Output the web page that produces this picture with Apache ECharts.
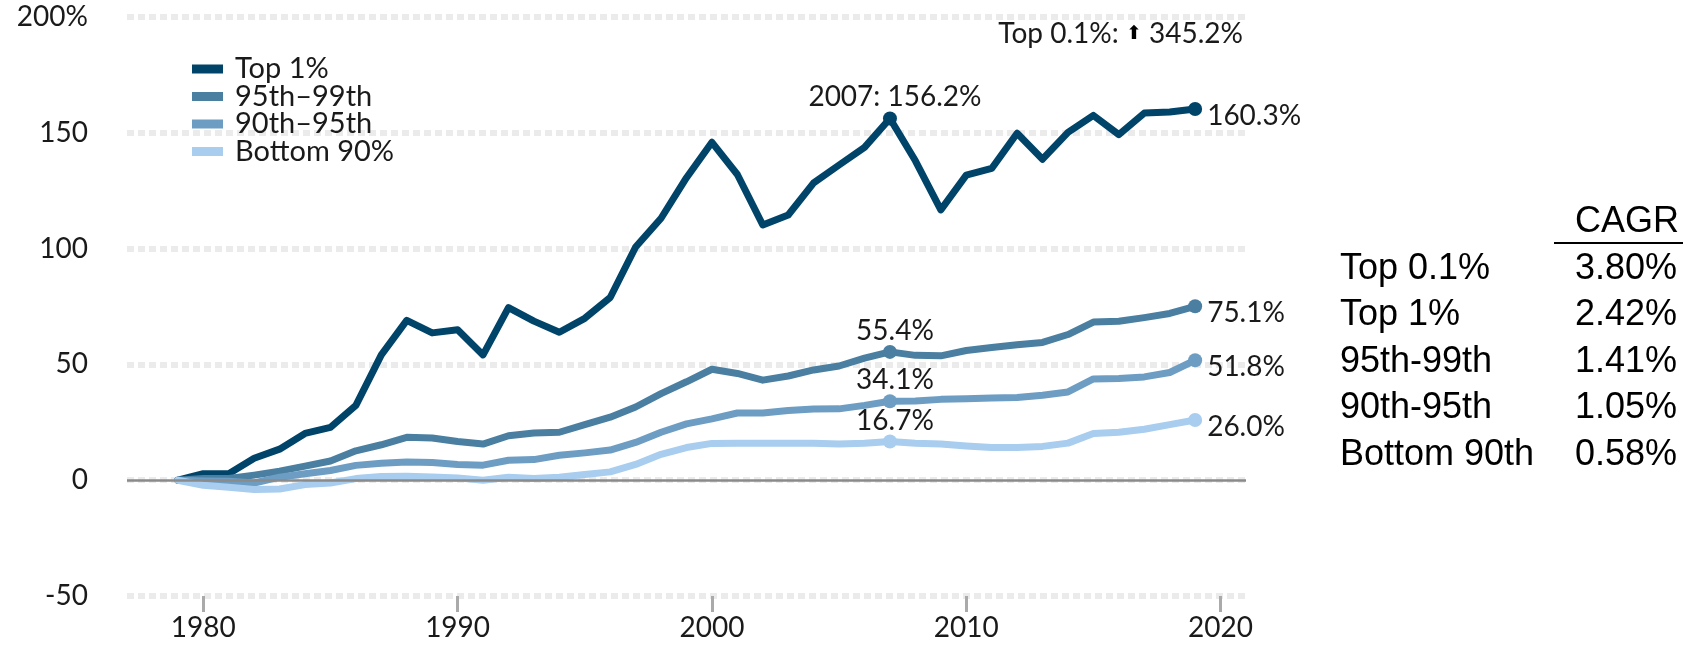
<!DOCTYPE html>
<html>
<head>
<meta charset="utf-8">
<script src="https://cdn.jsdelivr.net/npm/echarts@6/dist/echarts.min.js"></script>
<style>
  html, body { margin: 0; padding: 0; background: #fff; }
  #chart { width: 1699px; height: 646px; }
</style>
</head>
<body>
<div id="chart"></div>
<script>
// years on the x axis
const years = [1979, 1980, 1981, 1982, 1983, 1984, 1985, 1986, 1987, 1988,
  1989, 1990, 1991, 1992, 1993, 1994, 1995, 1996, 1997, 1998,
  1999, 2000, 2001, 2002, 2003, 2004, 2005, 2006, 2007, 2008,
  2009, 2010, 2011, 2012, 2013, 2014, 2015, 2016, 2017, 2018, 2019];

// cumulative growth since 1979, %
const top1 = [0, 2.8, 2.8, 9.5, 13.4, 20.2, 22.8, 32.3, 54.1, 69,
  63.6, 65, 54.1, 74.5, 68.7, 63.9, 69.9, 78.9, 100.7, 113.1,
  130.6, 145.9, 132, 110.2, 114.5, 128.4, 136.1, 143.7, 156.2, 137.9,
  116.7, 131.7, 134.6, 149.8, 138.6, 150.2, 157.5, 149.2, 158.5, 159, 160.3];
const p95to99 = [0, 0.7, 0.7, 2.2, 3.9, 6.1, 8.3, 12.7, 15.3, 18.5,
  18.2, 16.7, 15.6, 19.2, 20.4, 20.7, 24, 27.2, 31.6, 37.4,
  42.5, 47.9, 46.1, 43.2, 45, 47.6, 49.3, 52.7, 55.4, 53.9,
  53.7, 56, 57.3, 58.5, 59.5, 62.9, 68.3, 68.6, 70.2, 72, 75.1];
const p90to95 = [0, -0.3, -0.5, -1.2, 1.3, 2.8, 4.2, 6.4, 7.3, 7.9,
  7.6, 6.8, 6.5, 8.6, 8.9, 10.8, 11.8, 13, 16.3, 20.7,
  24.3, 26.5, 29, 29, 30.1, 30.7, 30.8, 32.3, 34.1, 34.2,
  34.9, 35.2, 35.5, 35.7, 36.7, 38.1, 43.7, 43.9, 44.6, 46.5, 51.8];
const bottom90 = [0, -2.2, -3, -4, -3.8, -1.9, -1.2, 0.7, 1.6, 1.7,
  1.4, 1, 0, 1.3, 0.7, 1.3, 2.5, 3.6, 6.8, 11.2,
  14.1, 15.9, 16, 16, 16, 16, 15.6, 16, 16.7, 16,
  15.6, 14.8, 14.1, 14.1, 14.6, 16, 20.2, 20.7, 22, 24, 26];

const seriesNames = ['Top 1%', '95th–99th', '90th–95th', 'Bottom 90%'];
const seriesColors = ['#00446a', '#4a7fa2', '#6d9dc3', '#a8cdee'];

const xTicks = [1980, 1990, 2000, 2010, 2020];
const peakYear = 2007;

const top01Note = 'Top 0.1%: ';
const top01Value = '345.2%';

const cagrGroups = ['Top 0.1%', 'Top 1%', '95th-99th', '90th-95th', 'Bottom 90th'];
const cagrRates = ['3.80%', '2.42%', '1.41%', '1.05%', '0.58%'];

const textColor = '#1a1a1a';
const font = 'Lato';

function points(values, withYear) {
  return values.map((v, i) => {
    const p = { value: [years[i], v] };
    if (years[i] === peakYear) {
      p.symbolSize = 14;
      p.label = {
        show: true, position: 'top', distance: 0, offset: [5, 0],
        formatter: (withYear ? peakYear + ': ' : '') + v.toFixed(1) + '%'
      };
    } else if (i === values.length - 1) {
      p.symbolSize = 14;
      p.label = {
        show: true, position: 'right', distance: 5, offset: [0, 7],
        formatter: v.toFixed(1) + '%'
      };
    }
    return p;
  });
}

function lineSeries(idx, values, withYear) {
  const color = seriesColors[idx];
  return {
    name: seriesNames[idx],
    type: 'line',
    data: points(values, withYear),
    symbol: 'circle',
    symbolSize: 0,
    showAllSymbol: true,
    lineStyle: { width: 7, color: color, cap: 'round', join: 'round' },
    itemStyle: { color: color },
    label: { color: textColor, fontSize: 28, fontFamily: font },
    emphasis: { disabled: true }
  };
}

const series = [
  lineSeries(0, top1, true),
  lineSeries(1, p95to99),
  lineSeries(2, p90to95),
  lineSeries(3, bottom90)
];
// the solid zero line
series[0].markLine = {
  silent: true,
  symbol: 'none',
  label: { show: false },
  lineStyle: { color: '#8a8a8a', width: 2.5, type: 'solid' },
  data: [{ yAxis: 0 }]
};

const tableFont = { fontSize: 36, fontFamily: 'Liberation Sans', fill: '#000', verticalAlign: 'middle' };
const tableItems = [
  { type: 'text', style: Object.assign({ text: 'CAGR', x: 1575, y: 222 }, tableFont) },
  { type: 'line', shape: { x1: 1554, y1: 243, x2: 1683, y2: 243 }, style: { stroke: '#000', lineWidth: 2 } }
];
cagrGroups.forEach((g, i) => {
  const y = 269 + i * 46.5;
  tableItems.push({ type: 'text', style: Object.assign({ text: g, x: 1340, y: y }, tableFont) });
  tableItems.push({ type: 'text', style: Object.assign({ text: cagrRates[i], x: 1575, y: y }, tableFont) });
});

const chart = echarts.init(document.getElementById('chart'));
chart.setOption({
  animation: false,
  grid: { left: 127, right: 453, top: 17, bottom: 50 },
  legend: {
    orient: 'vertical',
    left: 187,
    top: 49.5,
    icon: 'rect',
    itemWidth: 31,
    itemHeight: 9,
    itemGap: -1.5,
    selectedMode: false,
    textStyle: { fontSize: 29, fontFamily: font, color: textColor, padding: [0, 0, 0, 7] },
    data: seriesNames
  },
  xAxis: {
    type: 'value',
    min: 1977,
    max: 2021,
    splitLine: { show: false },
    axisLine: { show: false, onZero: false },
    axisTick: {
      show: true, length: 16, customValues: xTicks,
      lineStyle: { color: '#aaaaaa', width: 3 }
    },
    axisLabel: {
      customValues: xTicks, fontSize: 28, fontFamily: font, color: textColor, margin: 18,
      formatter: v => String(v)
    }
  },
  yAxis: {
    type: 'value',
    min: -50,
    max: 200,
    interval: 50,
    axisLine: { show: false },
    axisTick: { show: false },
    axisLabel: {
      fontSize: 28, fontFamily: font, color: textColor, margin: 39,
      padding: [12, 0, 0, 0],
      formatter: v => (v === 200 ? v + '%' : String(v))
    },
    splitLine: { lineStyle: { color: '#ebebeb', width: 6, type: [7, 4] } }
  },
  graphic: [
    {
      type: 'text',
      style: {
        text: '{t|' + top01Note + '}{a|⬆}{t| ' + top01Value + '}',
        x: 1243, y: 34, align: 'right', verticalAlign: 'middle',
        rich: {
          t: { fontSize: 28, fontFamily: font, fill: textColor },
          a: { fontSize: 19, fontFamily: 'DejaVu Sans', fill: '#000' }
        }
      }
    }
  ].concat(tableItems),
  series: series
});
</script>
</body>
</html>
